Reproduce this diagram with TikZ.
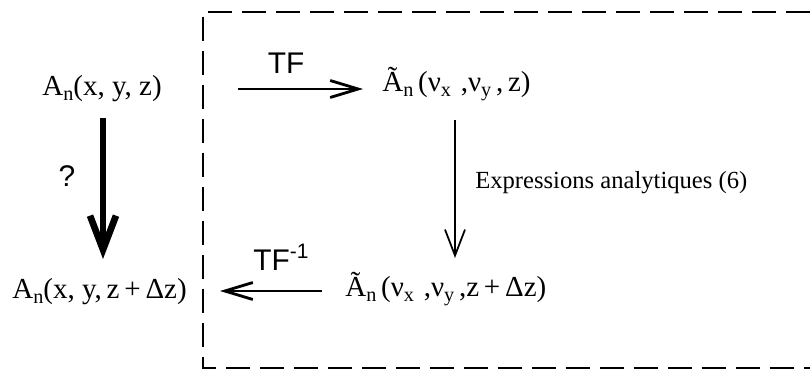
\documentclass[tikz,border=0pt]{standalone}
\usepackage{fontspec}
\setmainfont{Liberation Serif}
\newfontfamily\tfsans{Liberation Sans}
\usetikzlibrary{arrows.meta}
\newcommand\indice[1]{\raisebox{-.45ex}{\fontsize{11.5}{12}\selectfont #1}}

\begin{document}
\begin{tikzpicture}[x=0.02cm,y=-0.02cm,
  expr/.style={inner sep=0pt,anchor=base west,font=\fontsize{16.5}{18}\selectfont},
  tflbl/.style={inner sep=0pt,font=\tfsans\fontsize{17}{19}\selectfont},
  fleche/.style={line width=1.6pt,-{Straight Barb[length=5.6mm,width=3.4mm]}},
  fine/.style={line width=1pt,-{Straight Barb[length=5.2mm,width=4mm]}},
  grosse/.style={line width=3.8pt,-{Straight Barb[length=6.8mm,width=5.2mm]}},
  cadre/.style={line width=1.3pt,dash pattern=on .48cm off .2cm}]
\useasboundingbox (0,0) rectangle (810,372);
\draw[cadre] (810,12) -- (203,12) -- (203,368) -- (810,368);
\node[expr] (a) at (42,95) {A\indice{n}(x, y, z)};
\node[expr] (b) at (12,298) {A\indice{n}(x, y,\,z\,+\,Δz)};
\node[expr] (ta) at (382,91) {Ã\indice{n}\,(ν\indice{x}\,\,,ν\indice{y}\,,\,z)};
\node[expr] (tb) at (345,296) {Ã\indice{n}\,(ν\indice{x}\,\,,ν\indice{y}\,,z\,+\,Δz)};
\node[tflbl] (tf) at (286,63) {TF};
\node[tflbl,anchor=base west] (tfi) at (253,270) {TF\textsuperscript{-1}};
\node[inner sep=0pt,font=\tfsans\fontsize{17}{19}\selectfont] (q) at (67,176) {?};
\node[inner sep=0pt,anchor=base west,font=\fontsize{14}{16}\selectfont] (ex) at (475,188) {Expressions analytiques (6)};
\coordinate (tfs) at (238,89);
\coordinate (tfe) at (363,89);
\coordinate (tis) at (322,291);
\coordinate (tie) at (220,291);
\coordinate (ds) at (455,120);
\coordinate (de) at (455,258);
\coordinate (gs) at (103,118);
\coordinate (ge) at (103,259);
\draw[fleche] (tfs) -- (tfe);
\draw[fleche] (tis) -- (tie);
\draw[fine] (ds) -- (de);
\draw[grosse] (gs) -- (ge);
\end{tikzpicture}
\end{document}
